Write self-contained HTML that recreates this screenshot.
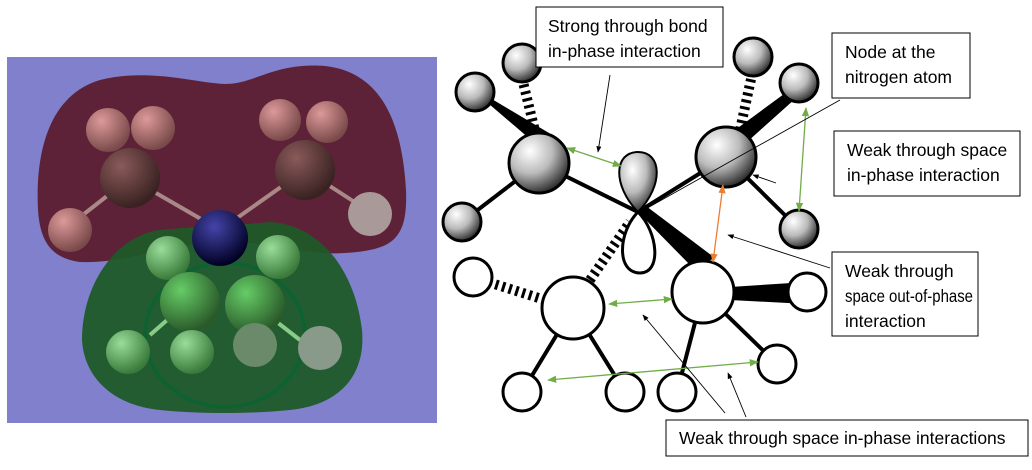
<!DOCTYPE html>
<html><head><meta charset="utf-8"><style>
body{margin:0;background:#fff;width:1032px;height:470px;overflow:hidden}
svg{display:block}
text{font-family:"Liberation Sans",sans-serif;font-size:17.5px;fill:#000}
</style></head><body>
<svg width="1032" height="470" viewBox="0 0 1032 470" xmlns="http://www.w3.org/2000/svg">
<defs>
<radialGradient id="g" cx="0.35" cy="0.3" r="0.75"><stop offset="0" stop-color="#fff"/><stop offset="0.5" stop-color="#bbb"/><stop offset="1" stop-color="#222"/></radialGradient>
<radialGradient id="pr" cx="0.35" cy="0.3" r="0.7"><stop offset="0" stop-color="#d99"/><stop offset="1" stop-color="#7a4a4a"/></radialGradient>
<radialGradient id="pc" cx="0.35" cy="0.3" r="0.7"><stop offset="0" stop-color="#8a5a5a"/><stop offset="1" stop-color="#3a2222"/></radialGradient>
<radialGradient id="gr" cx="0.35" cy="0.3" r="0.7"><stop offset="0" stop-color="#9d9"/><stop offset="1" stop-color="#3a7a3a"/></radialGradient>
<radialGradient id="gc" cx="0.35" cy="0.3" r="0.7"><stop offset="0" stop-color="#6c6"/><stop offset="1" stop-color="#2a5a2a"/></radialGradient>
<radialGradient id="bl" cx="0.4" cy="0.3" r="0.7"><stop offset="0" stop-color="#44a"/><stop offset="1" stop-color="#002"/></radialGradient>
<marker id="ab" viewBox="0 0 10 10" refX="9" refY="5" markerWidth="7" markerHeight="7" orient="auto-start-reverse"><path d="M0,1 L10,5 L0,9 z" fill="#000"/></marker>
<marker id="ag" viewBox="0 0 10 10" refX="9" refY="5" markerWidth="7" markerHeight="7" orient="auto-start-reverse"><path d="M0,1 L10,5 L0,9 z" fill="#70ad47"/></marker>
<marker id="ao" viewBox="0 0 10 10" refX="9" refY="5" markerWidth="7" markerHeight="7" orient="auto-start-reverse"><path d="M0,1 L10,5 L0,9 z" fill="#ed7d31"/></marker>
</defs>
<rect x="7" y="57" width="430" height="366" fill="#8080cc"/>
<path d="M38,210 C35,150 50,95 100,80 C150,68 190,82 225,84 C255,84 275,62 325,66 C380,72 402,120 406,190 C408,240 392,250 345,253 C300,256 260,238 210,242 C160,248 120,264 80,262 C50,258 40,240 38,210 Z" fill="#5a1a2a" opacity="0.92"/>
<path d="M82,340 C82,285 115,236 160,230 C200,226 230,226 270,222 C320,225 355,270 362,330 C366,375 340,405 290,410 C250,414 200,414 160,410 C110,405 84,375 82,340 Z" fill="#1f5a28" opacity="0.95"/>
<ellipse cx="225" cy="335" rx="80" ry="72" fill="none" stroke="#063" stroke-width="4" opacity="0.6"/>
<g stroke="#a88" stroke-width="4">
<line x1="130" y1="178" x2="220" y2="230"/><line x1="305" y1="170" x2="220" y2="230"/>
<line x1="130" y1="178" x2="70" y2="225"/><line x1="305" y1="170" x2="370" y2="212"/>
</g>
<circle cx="108" cy="130" r="22" fill="url(#pr)"/><circle cx="153" cy="128" r="22" fill="url(#pr)"/>
<circle cx="280" cy="120" r="21" fill="url(#pr)"/><circle cx="327" cy="122" r="21" fill="url(#pr)"/>
<circle cx="130" cy="178" r="30" fill="url(#pc)"/><circle cx="305" cy="170" r="30" fill="url(#pc)"/>
<circle cx="70" cy="230" r="22" fill="url(#pr)"/><circle cx="370" cy="214" r="22" fill="#a99"/>
<circle cx="220" cy="238" r="28" fill="url(#bl)"/>
<g stroke="#8c8" stroke-width="4"><line x1="190" y1="300" x2="150" y2="335"/><line x1="255" y1="305" x2="300" y2="340"/></g>
<circle cx="168" cy="258" r="22" fill="url(#gr)"/><circle cx="278" cy="257" r="22" fill="url(#gr)"/>
<circle cx="190" cy="302" r="30" fill="url(#gc)"/><circle cx="255" cy="305" r="30" fill="url(#gc)"/>
<circle cx="128" cy="352" r="22" fill="url(#gr)"/><circle cx="192" cy="352" r="22" fill="url(#gr)"/>
<circle cx="255" cy="345" r="22" fill="#6a8a6a"/><circle cx="320" cy="348" r="22" fill="#8a9a8a"/>
<g stroke="#000" stroke-width="4" fill="none">
<line x1="539" y1="163" x2="638" y2="212"/><line x1="726" y1="157" x2="638" y2="212"/>
<line x1="539" y1="163" x2="462" y2="222"/><line x1="726" y1="157" x2="799" y2="229"/>
<line x1="573" y1="308" x2="522" y2="392"/><line x1="573" y1="308" x2="625" y2="392"/>
<line x1="703" y1="292" x2="677" y2="392"/><line x1="703" y1="292" x2="777" y2="364"/>
</g>
<g stroke="#000" stroke-width="10" stroke-dasharray="3 4" fill="none">
<line x1="536" y1="135" x2="522" y2="78"/><line x1="740" y1="130" x2="753" y2="70"/>
<line x1="545" y1="300" x2="488" y2="282"/><line x1="590" y1="280" x2="630" y2="222"/>
</g>
<g fill="#000">
<polygon points="475,92 537,145 549,133 470,86"/>
<polygon points="799,83 735,130 747,142 805,90"/>
<polygon points="638,212 693,268 715,258 646,206"/>
<polygon points="807,282 730,287 730,300 807,304"/>
</g>
<path d="M638,212 C612,185 614,152 638,152 C662,152 664,185 638,212 Z" fill="url(#g)" stroke="#000" stroke-width="2"/>
<path d="M638,212 C618,232 616,273 640,273 C662,273 658,232 638,212 Z" fill="#fff" stroke="#000" stroke-width="3"/>
<g stroke="#000" stroke-width="3">
<circle cx="539" cy="163" r="30" fill="url(#g)"/><circle cx="726" cy="157" r="30" fill="url(#g)"/>
<circle cx="522" cy="63" r="19" fill="url(#g)"/><circle cx="475" cy="92" r="19" fill="url(#g)"/><circle cx="462" cy="222" r="19" fill="url(#g)"/>
<circle cx="753" cy="57" r="19" fill="url(#g)"/><circle cx="799" cy="83" r="19" fill="url(#g)"/><circle cx="799" cy="229" r="19" fill="url(#g)"/>
<circle cx="573" cy="308" r="31" fill="#fff"/><circle cx="703" cy="292" r="31" fill="#fff"/>
<circle cx="473" cy="277" r="19" fill="#fff"/><circle cx="807" cy="292" r="19" fill="#fff"/>
<circle cx="522" cy="392" r="19" fill="#fff"/><circle cx="625" cy="392" r="19" fill="#fff"/>
<circle cx="677" cy="392" r="19" fill="#fff"/><circle cx="777" cy="364" r="19" fill="#fff"/>
</g>
<g stroke="#70ad47" stroke-width="1.3" marker-start="url(#ag)" marker-end="url(#ag)">
<line x1="567" y1="148" x2="621" y2="166"/><line x1="609" y1="304" x2="672" y2="299"/>
<line x1="548" y1="380" x2="758" y2="362"/><line x1="806" y1="108" x2="799" y2="211"/>
</g>
<line x1="723" y1="185" x2="713" y2="262" stroke="#ed7d31" stroke-width="1.3" marker-start="url(#ao)" marker-end="url(#ao)"/>
<g stroke="#000" stroke-width="0.9" marker-end="url(#ab)">
<line x1="610" y1="75" x2="598" y2="152"/>
<line x1="840" y1="100" x2="642" y2="211"/>
<line x1="776" y1="183" x2="753" y2="175"/>
<line x1="830" y1="268" x2="728" y2="235"/>
<line x1="725" y1="413" x2="643" y2="315"/>
<line x1="746" y1="417" x2="728" y2="373"/>
</g>
<g fill="#fff" stroke="#000" stroke-width="1">
<rect x="536" y="7" width="187" height="60"/>
<rect x="832" y="33" width="138" height="65"/>
<rect x="834" y="131" width="186" height="65"/>
<rect x="832" y="252" width="146" height="84"/>
<rect x="666" y="420" width="362" height="36"/>
</g>
<text x="548" y="32">Strong through bond</text>
<text x="548" y="57">in-phase interaction</text>
<text x="845" y="58">Node at the</text>
<text x="845" y="83">nitrogen atom</text>
<text x="847" y="156">Weak through space</text>
<text x="847" y="181">in-phase interaction</text>
<text x="845" y="277">Weak through</text>
<text x="845" y="302" textLength="128" lengthAdjust="spacingAndGlyphs">space out-of-phase</text>
<text x="845" y="327">interaction</text>
<text x="679" y="444">Weak through space in-phase interactions</text>
</svg>
</body></html>
